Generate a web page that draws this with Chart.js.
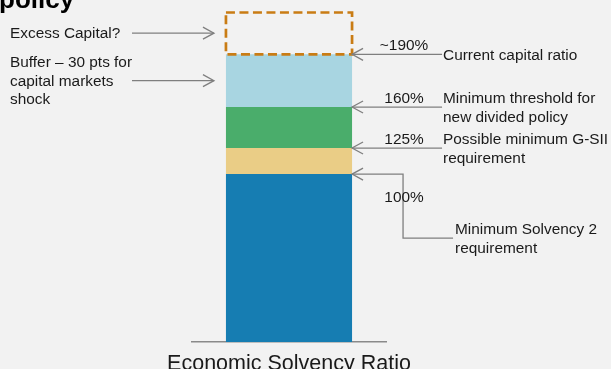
<!DOCTYPE html>
<html lang="en">
<head>
<meta charset="UTF-8">
<title>Economic Solvency Ratio</title>
<script src="https://cdn.jsdelivr.net/npm/chart.js"></script>
<style>
  html, body { margin: 0; padding: 0; background: #f2f2f2; overflow: hidden; }
  #wrap { width: 611px; height: 369px; }
</style>
</head>
<body>
<div id="wrap"><canvas id="solvencyChart" width="611" height="369"></canvas></div>
<script>
// one stacked bar; heights as drawn in the picture (the picture is not to scale), blue part = 100
const categories = ['Economic Solvency Ratio'];
const segmentNames = ['Minimum Solvency 2', 'G-SII requirement', 'Dividend threshold', 'Buffer', 'Excess Capital'];
const segmentHeights = [100, 15.5, 24.4, 31.4, 25.2];
const segmentColors = ['#167db2', '#eacd86', '#4aad6b', '#a8d5e1', 'rgba(0,0,0,0)'];

// right-hand arrows, one at the top of each of the first four segments
const levelLabels = ['100%', '125%', '160%', '~190%'];
const levelNotes = [
    ['Minimum Solvency 2', 'requirement'],
    ['Possible minimum G-SII', 'requirement'],
    ['Minimum threshold for', 'new divided policy'],
    ['Current capital ratio']
];

// left-hand arrows, pointing at the middle of a segment
const leftNotes = [['Buffer \u2013 30 pts for', 'capital markets', 'shock'], ['Excess Capital?']];
const leftSegments = [3, 4];

const titleTail = 'policy';

const FONT = '"Liberation Sans", Arial, sans-serif';
const TEXT = '#1a1a1a';
const LINE = '#7f7f7f';

// open arrow head, dir = -1 points left, 1 points right
function chevron(ctx, x, y, dir) {
    ctx.beginPath();
    ctx.moveTo(x - dir * 11, y - 6);
    ctx.lineTo(x, y);
    ctx.lineTo(x - dir * 11, y + 6);
    ctx.stroke();
}

function textLines(ctx, lines, x, yMid) {
    const lh = 18.5;
    const y0 = yMid - (lines.length - 1) * lh / 2;
    lines.forEach((t, i) => ctx.fillText(t, x, y0 + i * lh));
}

const annotations = {
    id: 'annotations',
    beforeDraw(chart) {
        const ctx = chart.ctx;
        ctx.save();
        ctx.fillStyle = '#f2f2f2';
        ctx.fillRect(0, 0, chart.width, chart.height);
        ctx.restore();
    },
    afterDatasetsDraw(chart) {
        const ctx = chart.ctx;
        const bars = segmentHeights.map((_, i) => chart.getDatasetMeta(i).data[0]);
        ctx.save();

        // dashed outline for the excess capital segment
        const ex = bars[4];
        const l = ex.x - ex.width / 2, r = ex.x + ex.width / 2;
        ctx.strokeStyle = '#c97c14';
        ctx.lineWidth = 2.7;
        ctx.setLineDash([9, 4.5]);
        ctx.strokeRect(l, ex.y + 0.5, r - l, ex.base - ex.y - 0.5);
        ctx.setLineDash([]);

        ctx.strokeStyle = LINE;
        ctx.lineWidth = 1.3;
        ctx.fillStyle = TEXT;
        ctx.font = '15.4px ' + FONT;

        // right side levels
        levelLabels.forEach((lab, i) => {
            const el = bars[i];
            const xr = el.x + el.width / 2;
            const y = el.y;
            chevron(ctx, xr, y, -1);
            ctx.beginPath();
            ctx.moveTo(xr, y);
            if (i === 0) {
                ctx.lineTo(xr + 51, y);
                ctx.lineTo(xr + 51, y + 64);
                ctx.lineTo(xr + 101, y + 64);
                ctx.stroke();
                ctx.textAlign = 'center';
                ctx.textBaseline = 'middle';
                ctx.fillText(lab, xr + 52, y + 24);
                ctx.textAlign = 'left';
                textLines(ctx, levelNotes[i], xr + 103, y + 65);
            } else {
                ctx.lineTo(xr + 90, y);
                ctx.stroke();
                ctx.textAlign = 'center';
                ctx.textBaseline = 'middle';
                ctx.fillText(lab, xr + 52, y - 8.5);
                ctx.textAlign = 'left';
                textLines(ctx, levelNotes[i], xr + 91, y + 1);
            }
        });

        // left side notes
        leftNotes.forEach((lines, k) => {
            const el = bars[leftSegments[k]];
            const xl = el.x - el.width / 2;
            const y = (el.y + el.base) / 2;
            ctx.beginPath();
            ctx.moveTo(132, y);
            ctx.lineTo(xl - 12, y);
            ctx.stroke();
            chevron(ctx, xl - 12, y, 1);
            ctx.textAlign = 'left';
            ctx.textBaseline = 'middle';
            textLines(ctx, lines, 10, y + 1);
        });

        // tail of the slide title, cut off by the top edge
        ctx.font = 'bold 26px ' + FONT;
        ctx.textBaseline = 'alphabetic';
        ctx.fillStyle = '#000';
        ctx.fillText(titleTail, -1, 7.5);
        ctx.restore();
    }
};

const total = segmentHeights.reduce((a, b) => a + b, 0);

new Chart(document.getElementById('solvencyChart').getContext('2d'), {
    type: 'bar',
    data: {
        labels: categories,
        datasets: segmentHeights.map((v, i) => ({
            label: segmentNames[i],
            data: [v],
            backgroundColor: segmentColors[i],
            borderWidth: 0,
            barPercentage: 0.65,
            categoryPercentage: 1
        }))
    },
    options: {
        responsive: false,
        animation: false,
        devicePixelRatio: 1,
        layout: { padding: { left: 192, right: 225, top: 12, bottom: 0 } },
        plugins: { legend: { display: false }, tooltip: { enabled: false } },
        scales: {
            x: {
                stacked: true,
                grid: { display: true, drawOnChartArea: false, drawTicks: false },
                border: { display: true, color: '#8a8a8a', width: 1.5 },
                ticks: { color: TEXT, padding: 9, font: { family: FONT, size: 21.5 } },
                afterFit(scale) { scale.height = 27; }
            },
            y: { stacked: true, display: false, min: 0, max: total }
        }
    },
    plugins: [annotations]
});
</script>
</body>
</html>
